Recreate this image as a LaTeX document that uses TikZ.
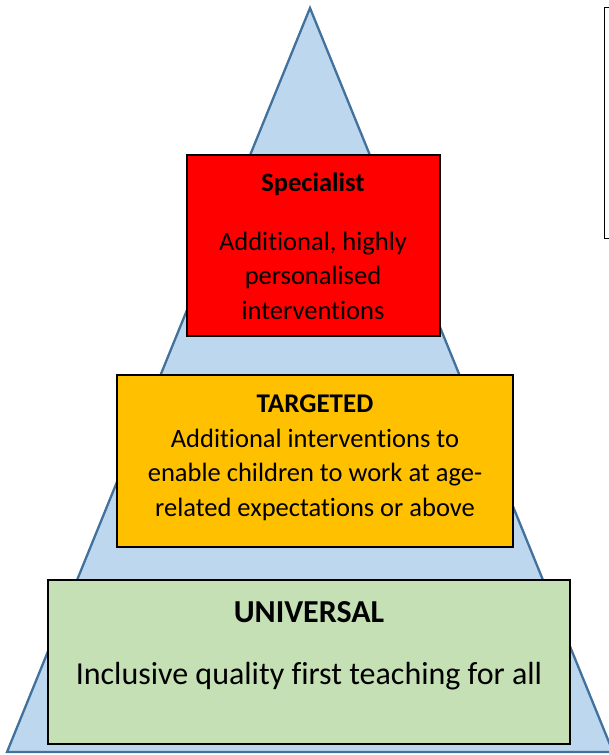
\documentclass[tikz,border=0pt]{standalone}
\usepackage{fontspec}
\setmainfont[Ligatures={NoCommon}]{Carlito}
\definecolor{pyrfill}{HTML}{BDD7EE}
\definecolor{pyrline}{HTML}{41719C}
\definecolor{specred}{HTML}{FF0000}
\definecolor{targamber}{HTML}{FFC000}
\definecolor{univgreen}{HTML}{C5E0B4}
\begin{document}
\begin{tikzpicture}[x=1pt,y=-1pt,
  tier/.style={draw=black, line width=1.3pt, rectangle, inner sep=0pt},
  heading/.style={font=\fontsize{26.5}{30}\selectfont\bfseries, inner sep=0pt, anchor=center},
  body/.style={font=\fontsize{26.5}{34.5}\selectfont, inner sep=0pt, anchor=center, align=center}]
\useasboundingbox (0,0) rectangle (609,755);
% pyramid background
\coordinate (apex) at (310,8);
\coordinate (bl) at (7,752);
\coordinate (br) at (613,752);
\draw[fill=pyrfill, draw=pyrline, line width=2.3pt, line join=miter] (apex) -- (br) -- (bl) -- cycle;
% side panel, partly outside the page
\draw[line width=1pt, black] (625,7) -- (604,7) -- (604,238) -- (625,238);
% tiers
\node[tier, fill=specred, minimum width=253pt, minimum height=181pt] (spec) at (313.5,245.5) {};
\node[tier, fill=targamber, minimum width=396pt, minimum height=172pt] (targ) at (315,461) {};
\node[tier, fill=univgreen, minimum width=522pt, minimum height=164pt] (univ) at (309,662) {};
% texts
\node[heading] (specT) at (313,184) {Specialist};
\node[body] (specB) at (313,275.5) {Additional, highly\\personalised\\interventions};
\node[heading, font=\fontsize{27}{30}\selectfont\bfseries] (targT) at (315,403.5) {TARGETED};
\node[body] (targB) at (315,474.5) {Additional interventions to\\enable children to work at age-\\related expectations or above};
\node[heading, font=\fontsize{32}{36}\selectfont\bfseries] (univT) at (309,612) {UNIVERSAL};
\node[body, font=\fontsize{32}{36}\selectfont] (univB) at (309,676) {Inclusive quality first teaching for all};
\end{tikzpicture}
\end{document}
